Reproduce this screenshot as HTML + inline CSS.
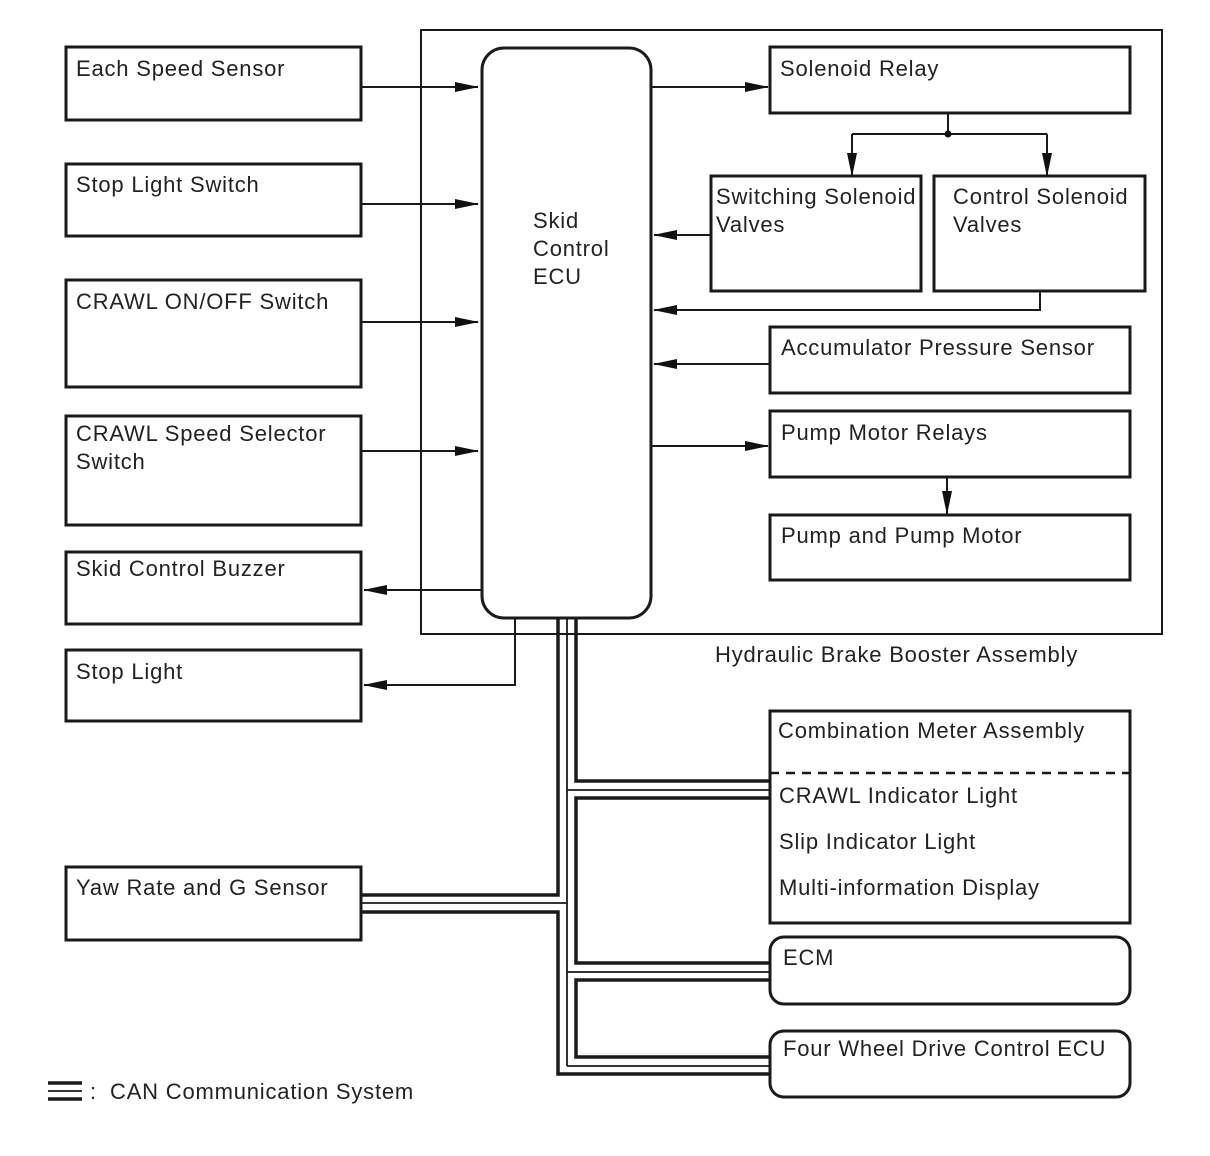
<!DOCTYPE html>
<html><head><meta charset="utf-8"><style>
html,body{margin:0;padding:0;background:#fff;}
svg{display:block;}
text{font-family:"Liberation Sans",Arial,sans-serif;font-size:22px;letter-spacing:0.8px;fill:#222;}
</style></head><body>
<svg width="1210" height="1156" viewBox="0 0 1210 1156" xmlns="http://www.w3.org/2000/svg">
<defs>
<marker id="a" markerWidth="24" markerHeight="12" refX="23" refY="6" orient="auto" markerUnits="userSpaceOnUse">
<path d="M0,1 L24,6 L0,11 Z" fill="#111"/>
</marker>
</defs>
<g fill="none" stroke="#1a1a1a">
<rect x="421" y="30" width="741" height="604" stroke-width="2"/>
<g stroke-width="3">
<rect x="66" y="47" width="295" height="73"/>
<rect x="66" y="164" width="295" height="72"/>
<rect x="66" y="280" width="295" height="107"/>
<rect x="66" y="416" width="295" height="109"/>
<rect x="66" y="552" width="295" height="72"/>
<rect x="66" y="650" width="295" height="71"/>
<rect x="66" y="867" width="295" height="73"/>
<rect x="482" y="48" width="169" height="570" rx="22"/>
<rect x="770" y="47" width="360" height="66"/>
<rect x="711" y="176" width="210" height="115"/>
<rect x="934" y="176" width="211" height="115"/>
<rect x="770" y="327" width="360" height="66"/>
<rect x="770" y="411" width="360" height="66"/>
<rect x="770" y="515" width="360" height="65"/>
<rect x="770" y="711" width="360" height="212"/>
<rect x="770" y="937" width="360" height="67" rx="14"/>
<rect x="770" y="1031" width="360" height="66" rx="14"/>
</g>
<line x1="770" y1="773" x2="1130" y2="773" stroke-width="2.5" stroke-dasharray="9,7"/>
<g stroke-width="2">
<line x1="361" y1="87" x2="478" y2="87" marker-end="url(#a)"/>
<line x1="361" y1="204" x2="478" y2="204" marker-end="url(#a)"/>
<line x1="361" y1="322" x2="478" y2="322" marker-end="url(#a)"/>
<line x1="361" y1="451" x2="478" y2="451" marker-end="url(#a)"/>
<line x1="482" y1="590" x2="364" y2="590" marker-end="url(#a)"/>
<polyline points="515,618 515,685 364,685" marker-end="url(#a)"/>
<line x1="651" y1="87" x2="768" y2="87" marker-end="url(#a)"/>
<line x1="948" y1="113" x2="948" y2="134"/>
<polyline points="852,134 852,176" marker-end="url(#a)"/>
<polyline points="1047,134 1047,176" marker-end="url(#a)"/>
<line x1="852" y1="134" x2="1047" y2="134"/>
<line x1="711" y1="235" x2="654" y2="235" marker-end="url(#a)"/>
<polyline points="1040,291 1040,310 654,310" marker-end="url(#a)"/>
<line x1="770" y1="364" x2="654" y2="364" marker-end="url(#a)"/>
<line x1="651" y1="446" x2="768" y2="446" marker-end="url(#a)"/>
<line x1="947" y1="477" x2="947" y2="514" marker-end="url(#a)"/>
</g>
<g stroke-width="3.5" stroke-linejoin="miter">
<polyline points="558,618 558,895 361,895"/>
<polyline points="361,912 558,912 558,1074 770,1074"/>
<polyline points="576,618 576,781 770,781"/>
<polyline points="770,798 576,798 576,963 770,963"/>
<polyline points="770,980 576,980 576,1057 770,1057"/>
</g>
<g stroke-width="1.8">
<line x1="567" y1="618" x2="567" y2="1066"/>
<line x1="361" y1="903" x2="567" y2="903"/>
<line x1="567" y1="790" x2="770" y2="790"/>
<line x1="567" y1="972" x2="770" y2="972"/>
<line x1="567" y1="1066" x2="770" y2="1066"/>
</g>
<line x1="48" y1="1083" x2="82" y2="1083" stroke-width="3.5"/>
<line x1="48" y1="1091" x2="82" y2="1091" stroke-width="1.8"/>
<line x1="48" y1="1099" x2="82" y2="1099" stroke-width="3.5"/>
</g>
<circle cx="948" cy="134" r="3.5" fill="#111"/>
<text x="76" y="76">Each Speed Sensor</text>
<text x="76" y="192">Stop Light Switch</text>
<text x="76" y="309">CRAWL ON/OFF Switch</text>
<text x="76" y="441">CRAWL Speed Selector</text>
<text x="76" y="469">Switch</text>
<text x="76" y="576">Skid Control Buzzer</text>
<text x="76" y="679">Stop Light</text>
<text x="76" y="895">Yaw Rate and G Sensor</text>
<text x="533" y="228">Skid</text>
<text x="533" y="256">Control</text>
<text x="533" y="284">ECU</text>
<text x="780" y="76">Solenoid Relay</text>
<text x="716" y="204">Switching Solenoid</text>
<text x="716" y="232">Valves</text>
<text x="953" y="204">Control Solenoid</text>
<text x="953" y="232">Valves</text>
<text x="781" y="355">Accumulator Pressure Sensor</text>
<text x="781" y="440">Pump Motor Relays</text>
<text x="781" y="543">Pump and Pump Motor</text>
<text x="715" y="662">Hydraulic Brake Booster Assembly</text>
<text x="778" y="738">Combination Meter Assembly</text>
<text x="779" y="803">CRAWL Indicator Light</text>
<text x="779" y="849">Slip Indicator Light</text>
<text x="779" y="895">Multi-information Display</text>
<text x="783" y="965">ECM</text>
<text x="783" y="1056">Four Wheel Drive Control ECU</text>
<text x="90" y="1099">:</text>
<text x="110" y="1099">CAN Communication System</text>
</svg>
</body></html>
